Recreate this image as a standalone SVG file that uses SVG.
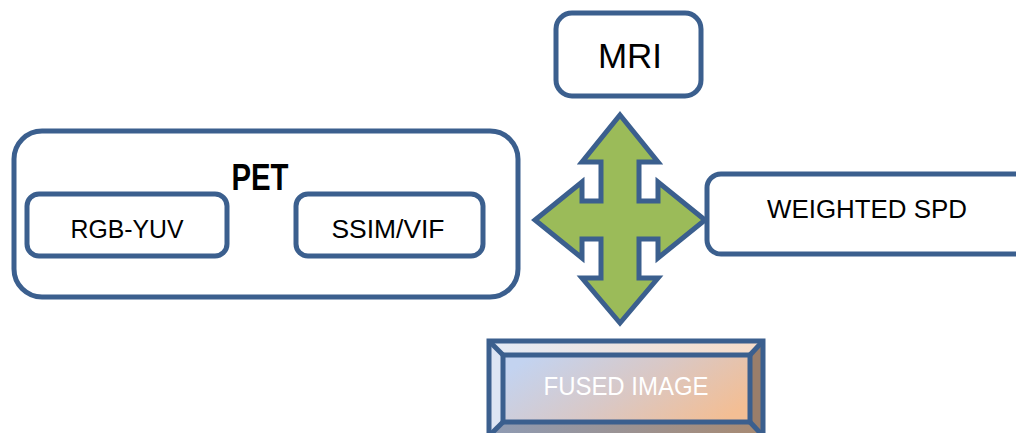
<svg xmlns="http://www.w3.org/2000/svg" width="1016" height="433" viewBox="0 0 1016 433">
<defs>
<style>
.box{fill:#fff;stroke:#3B5F8E;stroke-width:5}
.t{font-family:"Liberation Sans",Arial,sans-serif;fill:#000;text-anchor:middle}
</style>
<linearGradient id="fg" x1="0" y1="0.3" x2="1" y2="0.7">
<stop offset="0" stop-color="#C3D3F0"/>
<stop offset="0.5" stop-color="#D9C8C6"/>
<stop offset="1" stop-color="#F3BE94"/>
</linearGradient>
<linearGradient id="bt" x1="0" y1="0" x2="1" y2="0">
<stop offset="0" stop-color="#E4EBF7"/>
<stop offset="1" stop-color="#F7DCC8"/>
</linearGradient>
<linearGradient id="bb" x1="0" y1="0" x2="1" y2="0">
<stop offset="0" stop-color="#8E9BB4"/>
<stop offset="1" stop-color="#A88A72"/>
</linearGradient>
</defs>
<g id="mri">
<rect class="box" x="556" y="13" width="145" height="83" rx="16"/>
<text class="t" x="630" y="68" font-size="35">MRI</text>
</g>
<g id="pet">
<rect class="box" x="14" y="131" width="504" height="166" rx="28"/>
<text class="t" x="260" y="190" font-size="36" font-weight="bold" textLength="57" lengthAdjust="spacingAndGlyphs">PET</text>
</g>
<g id="rgb-yuv">
<rect class="box" x="27" y="194" width="200" height="62" rx="12"/>
<text class="t" x="127" y="238" font-size="25" textLength="113" lengthAdjust="spacingAndGlyphs">RGB-YUV</text>
</g>
<g id="ssim-vif">
<rect class="box" x="296" y="194" width="187" height="62" rx="12"/>
<text class="t" x="388" y="238" font-size="25" textLength="113" lengthAdjust="spacingAndGlyphs">SSIM/VIF</text>
</g>
<g id="weighted-spd">
<rect class="box" x="707" y="174" width="330" height="80" rx="14"/>
<text class="t" x="867" y="218" font-size="26" textLength="200" lengthAdjust="spacingAndGlyphs">WEIGHTED SPD</text>
</g>
<g id="connectors">
<polygon fill="#9BBB59" stroke="#3B5F8E" stroke-width="5" stroke-linejoin="miter" points="620,115 658,162 639,162 639,201 658,201 658,182 705,220 658,258 658,239 639,239 639,278 658,278 620,323 582,278 601,278 601,239 582,239 582,258 535,220 582,182 582,201 601,201 601,162 582,162"/>
</g>
<g id="fused-image">
<polygon points="489,341 763,341 750,355 503,355" fill="url(#bt)"/>
<polygon points="489,341 503,355 503,422 489,436" fill="#DDE5F4"/>
<polygon points="763,341 763,436 750,422 750,355" fill="#9A7E6A"/>
<polygon points="489,436 503,422 750,422 763,436" fill="url(#bb)"/>
<rect x="503" y="355" width="247" height="67" fill="url(#fg)"/>
<g fill="none" stroke="#3B5F8E" stroke-width="5">
<rect x="489" y="341" width="274" height="95"/>
<rect x="503" y="355" width="247" height="67"/>
<line x1="489" y1="341" x2="503" y2="355"/>
<line x1="763" y1="341" x2="750" y2="355"/>
<line x1="489" y1="436" x2="503" y2="422"/>
<line x1="763" y1="436" x2="750" y2="422"/>
</g>
<text class="t" x="626" y="395" font-size="25" style="fill:#fff" textLength="165" lengthAdjust="spacingAndGlyphs">FUSED IMAGE</text>
</g>
</svg>
